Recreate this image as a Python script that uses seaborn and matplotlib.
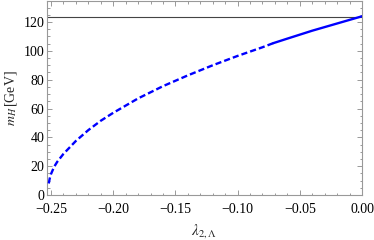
import numpy as np
import pandas as pd
import seaborn as sns
import matplotlib.pyplot as plt
from matplotlib.ticker import MultipleLocator

# values
lam_dashed = [-0.2518, -0.251, -0.25, -0.2475, -0.245, -0.24, -0.235, -0.23,
              -0.22, -0.21, -0.20, -0.19, -0.18, -0.16, -0.14, -0.12,
              -0.10, -0.08, -0.0715]
mh_dashed = [8, 11.5, 14.5, 19.5, 23, 28.5, 33, 37.5,
             45, 51.5, 57, 62, 67, 75.5, 83, 90,
             96.5, 102.5, 105.3]
lam_solid = [-0.0715, -0.06, -0.04, -0.02, 0.0]
mh_solid = [105.3, 108.5, 114, 119, 124]
mh_ref = 123.5

sns.set_theme(style="ticks")
plt.rcParams['font.family'] = ['Liberation Serif', 'DejaVu Serif']
plt.rcParams['mathtext.fontset'] = 'stix'

fig = plt.figure(figsize=(3.74, 2.40), dpi=100)
ax = fig.add_axes([47 / 374, 1 - 195 / 240, 315 / 374, 194 / 240])

dashed = pd.DataFrame({"lam": lam_dashed, "mh": mh_dashed})
solid = pd.DataFrame({"lam": lam_solid, "mh": mh_solid})

ax.axhline(mh_ref, color="#444444", lw=0.8, zorder=1)
sns.lineplot(data=dashed, x="lam", y="mh", ax=ax, color="blue", lw=1.7,
             linestyle=(0, (2.6, 1.3)), zorder=3)
sns.lineplot(data=solid, x="lam", y="mh", ax=ax, color="blue", lw=1.7, zorder=3)

ax.set_xlim(-0.2532, 0.0)
ax.set_ylim(0, 134.6)
ax.xaxis.set_major_locator(MultipleLocator(0.05))
ax.xaxis.set_minor_locator(MultipleLocator(0.01))
ax.yaxis.set_major_locator(MultipleLocator(20))
ax.yaxis.set_minor_locator(MultipleLocator(5))
ax.xaxis.set_major_formatter(lambda v, p: f"{v:.2f}".replace("-", "\u2212") if abs(v) > 1e-9 else "0.00")

for s in ax.spines.values():
    s.set_color("#999999")
    s.set_linewidth(0.8)
ax.tick_params(which="both", direction="in", top=True, right=True,
               color="#999999", labelsize=10, labelcolor="black", width=0.7)
ax.tick_params(axis="x", which="major", pad=6)
ax.tick_params(axis="y", which="major", pad=2)
ax.tick_params(which="major", length=3.5)
ax.tick_params(which="minor", length=1.8)

ax.set_xlabel(r"$\lambda_{2,\Lambda}$", fontsize=11, labelpad=4)
ax.set_ylabel(r"$m_H\,$[GeV]", fontsize=10, labelpad=3)

fig.savefig("out.png", dpi=100)
